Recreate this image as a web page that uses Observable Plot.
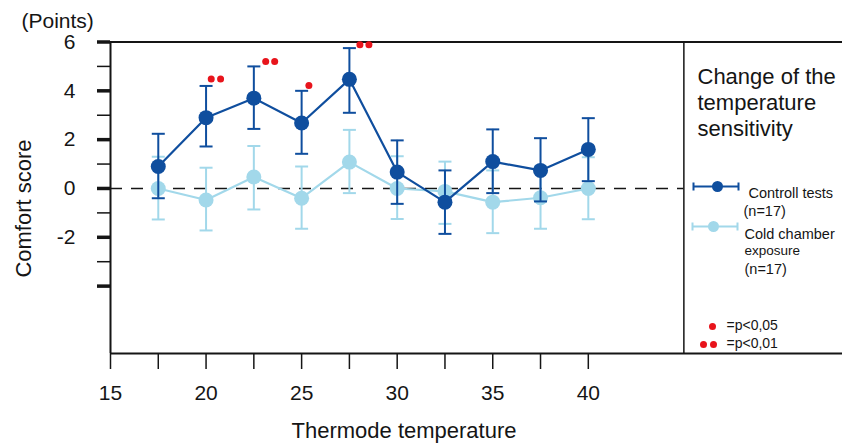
<!DOCTYPE html>
<html>
<head>
<meta charset="utf-8">
<script src="https://cdn.jsdelivr.net/npm/d3@7"></script>
<script src="https://cdn.jsdelivr.net/npm/@observablehq/plot@0.6"></script>
<style>
  html, body { margin: 0; padding: 0; background: #fff; }
  #chart svg { display: block; }
</style>
</head>
<body>
<div id="chart"></div>
<script>
// ---- data ----
const temps     = [17.5, 20, 22.5, 25, 27.5, 30, 32.5, 35, 37.5, 40];
const ctrlMean  = [0.9, 2.9, 3.7, 2.68, 4.47, 0.67, -0.56, 1.1, 0.74, 1.6];
const ctrlHi    = [2.24, 4.2, 5.0, 4.0, 5.75, 1.97, 0.74, 2.42, 2.06, 2.88];
const ctrlLo    = [-0.4, 1.72, 2.44, 1.42, 3.1, -0.63, -1.86, -0.19, -0.53, 0.3];
const coldMean  = [0, -0.47, 0.47, -0.4, 1.08, 0, -0.12, -0.56, -0.38, 0];
const coldHi    = [1.3, 0.85, 1.74, 0.9, 2.4, 1.32, 1.1, 0.74, 0.9, 1.28];
const coldLo    = [-1.27, -1.72, -0.86, -1.65, -0.19, -1.25, -1.45, -1.83, -1.65, -1.26];
const sigX      = [20.27, 20.76, 23.12, 23.59, 25.38, 28.05, 28.52];
const sigY      = [4.48, 4.48, 5.2, 5.2, 4.22, 5.89, 5.89];
const yMajor    = [-4, -2, 0, 2, 4, 6];
const yMinor    = [-3, -1, 1, 3, 5];
const yLabels   = [-2, 0, 2, 4, 6];
const xTicks    = [15, 17.5, 20, 22.5, 25, 27.5, 30, 32.5, 35, 37.5, 40];
const xLabels   = [15, 20, 25, 30, 35, 40];
const titleLines = ["Change of the", "temperature", "sensitivity"];

const ctrl = temps.map((t, i) => ({t, m: ctrlMean[i], hi: ctrlHi[i], lo: ctrlLo[i]}));
const cold = temps.map((t, i) => ({t, m: coldMean[i], hi: coldHi[i], lo: coldLo[i]}));
const sig  = sigX.map((x, i) => ({x, y: sigY[i]}));

// ---- layout / style ----
const W = 842, H = 443, ML = 110, MT = 41.5, MB = 90, MR = 0;
const xMin = 15, xPanel = 45, xMax = 53.3;
const yMin = -6.76, yMax = 6;
const DARK = "#0f4e9e", LIGHT = "#a2d8ea", RED = "#e8141c", INK = "#151515";
const FONT = "'Liberation Sans', Arial, Helvetica, sans-serif";

const cap = {draw(ctx) { ctx.moveTo(-6.5, 0); ctx.lineTo(6.5, 0); }};
const legendBar = {draw(ctx) {
  ctx.moveTo(-22.5, 0); ctx.lineTo(22.5, 0);
  ctx.moveTo(-22.5, -4); ctx.lineTo(-22.5, 4);
  ctx.moveTo(22.5, -4); ctx.lineTo(22.5, 4);
}};

// annotation helper: page-pixel placement relative to frame top-left
const note = (str, px, py, opts = {}) => Plot.text([str], {
  frameAnchor: "top-left", dx: px - ML, dy: py - MT, text: d => d,
  textAnchor: "start", lineAnchor: "bottom", fontSize: 14.5, fill: INK, ...opts
});
const glyph = (px, py, opts) => Plot.dot([0], {frameAnchor: "top-left", dx: px - ML, dy: py - MT, ...opts});

const series = (rows, color) => [
  Plot.ruleX(rows, {x: "t", y1: "lo", y2: "hi", stroke: color, strokeWidth: 2}),
  Plot.dot(rows, {x: "t", y: "hi", symbol: cap, stroke: color, strokeWidth: 2, fill: "none"}),
  Plot.dot(rows, {x: "t", y: "lo", symbol: cap, stroke: color, strokeWidth: 2, fill: "none"}),
  Plot.line(rows, {x: "t", y: "m", stroke: color, strokeWidth: 2.2}),
  Plot.dot(rows, {x: "t", y: "m", r: 7.5, fill: color, stroke: "none"})
];

const chart = Plot.plot({
  width: W, height: H,
  marginLeft: ML, marginRight: MR, marginTop: MT, marginBottom: MB,
  x: {domain: [xMin, xMax]},
  y: {domain: [yMin, yMax]},
  style: {fontFamily: FONT, background: "white", color: INK, overflow: "visible"},
  marks: [
    // frame
    Plot.ruleY([yMax], {stroke: INK, strokeWidth: 2}),
    Plot.ruleY([yMin], {stroke: INK, strokeWidth: 2}),
    Plot.ruleX([xMin], {y1: yMin, y2: yMax, stroke: INK, strokeWidth: 2}),
    Plot.ruleX([xPanel], {y1: yMin, y2: yMax, stroke: INK, strokeWidth: 1.5}),
    // zero line
    Plot.ruleY([0], {x1: xMin, x2: xPanel, stroke: INK, strokeWidth: 1.5, strokeDasharray: "12,9"}),
    // series
    ...series(cold, LIGHT),
    ...series(ctrl, DARK),
    // significance dots
    Plot.dot(sig, {x: "x", y: "y", r: 3.5, fill: RED, stroke: "none"}),
    // axes
    Plot.axisY({ticks: yMajor, tickSize: 13, strokeWidth: 3.5, tickFormat: () => "", label: null, stroke: INK}),
    Plot.axisY({ticks: yMinor, tickSize: 13, strokeWidth: 1.5, tickFormat: () => "", label: null, stroke: INK}),
    Plot.text(yLabels, {x: xMin, y: d => d, text: d => String(d), dx: -35, textAnchor: "end",
      lineAnchor: "middle", fontSize: 21, fill: INK}),
    Plot.axisX({ticks: xTicks, tickSize: 16, tickPadding: 16, strokeWidth: 1.5, fontSize: 21,
      tickFormat: d => xLabels.includes(d) ? String(d) : "", label: null, stroke: INK}),
    // axis titles
    note("(Points)", 21, 27, {fontSize: 21}),
    Plot.text(["Comfort score"], {frameAnchor: "left", dx: 30 - ML, dy: 208 - (MT + (H - MB - MT) / 2),
      text: d => d, rotate: -90, textAnchor: "middle", lineAnchor: "bottom", fontSize: 22, fill: INK}),
    Plot.text(["Thermode temperature"], {frameAnchor: "bottom", dx: 403.5 - (ML + (W - ML - MR) / 2), dy: 437 - (H - MB),
      text: d => d, textAnchor: "middle", lineAnchor: "bottom", fontSize: 22, fill: INK}),
    // legend title
    note(titleLines.join("\n"), 697, 65, {fontSize: 22, lineAnchor: "top", lineHeight: 26 / 22}),
    // legend entries
    glyph(715.5, 186, {symbol: legendBar, stroke: DARK, strokeWidth: 2, fill: "none"}),
    glyph(717, 186, {r: 5.5, fill: DARK, stroke: "none"}),
    glyph(714.5, 226, {symbol: legendBar, stroke: LIGHT, strokeWidth: 2, fill: "none"}),
    glyph(713, 226, {r: 5.5, fill: LIGHT, stroke: "none"}),
    note("Controll tests", 748, 197.5),
    note("(n=17)", 743, 215.5),
    note("Cold chamber", 744, 238),
    note("exposure", 744, 254, {fontSize: 13.5}),
    note("(n=17)", 744, 273),
    glyph(712, 326, {r: 3.5, fill: RED, stroke: "none"}),
    glyph(703, 344, {r: 3.5, fill: RED, stroke: "none"}),
    glyph(713, 344, {r: 3.5, fill: RED, stroke: "none"}),
    note("=p<0,05", 726, 329, {fontSize: 14}),
    note("=p<0,01", 726, 347, {fontSize: 14})
  ]
});
document.getElementById("chart").appendChild(chart);
</script>
</body>
</html>
